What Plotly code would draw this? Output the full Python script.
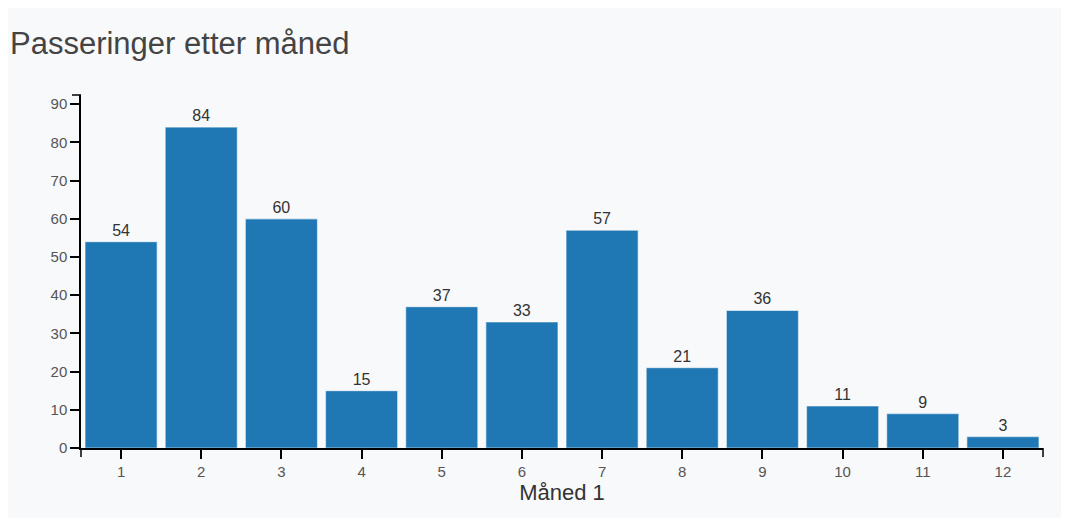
import plotly.graph_objects as go

months = [1, 2, 3, 4, 5, 6, 7, 8, 9, 10, 11, 12]
passeringer = [54, 84, 60, 15, 37, 33, 57, 21, 36, 11, 9, 3]
y_ticks = [0, 10, 20, 30, 40, 50, 60, 70, 80, 90]

# page has an 8px body margin
W, H = 1061, 510
L, R, T, B = 73, 26, 87, 70
pw = W - L - R
ph = H - T - B
TICKLEN = 9

fig = go.Figure(go.Bar(
    x=months, y=passeringer,
    marker=dict(color="#1f77b4", line=dict(color="rgba(255,255,255,0.55)", width=1.2)),
    text=[str(v) for v in passeringer], textposition="outside",
    textfont=dict(family="Liberation Sans, Arial", size=16, color="#333"),
    cliponaxis=False,
))

shapes = [
    # d3-style outer ticks at domain ends
    dict(type="line", xref="paper", yref="paper", x0=0, x1=0, y0=0, y1=-TICKLEN / ph,
         line=dict(color="#000", width=1.5)),
    dict(type="line", xref="paper", yref="paper", x0=1, x1=1, y0=0, y1=-TICKLEN / ph,
         line=dict(color="#000", width=1.5)),
    dict(type="line", xref="paper", yref="paper", x0=0, x1=-TICKLEN / pw, y0=1, y1=1,
         line=dict(color="#000", width=1.5)),
]

fig.update_layout(
    width=W, height=H,
    margin=dict(l=L, r=R, t=T, b=B),
    paper_bgcolor="#f8f9fa", plot_bgcolor="rgba(0,0,0,0)",
    bargap=0.1,
    showlegend=False,
    shapes=shapes,
    title=dict(text="Passeringer etter måned", xref="container", x=2 / W, xanchor="left",
               yref="container", y=1 - 35 / H, yanchor="middle",
               font=dict(family="Liberation Sans, Arial", size=31, color="#444")),
    font=dict(family="Liberation Sans, Arial"),
    xaxis=dict(
        tickmode="array", tickvals=months, ticktext=[str(m) for m in months],
        range=[0.5, 12.5], showgrid=False, zeroline=False,
        showline=True, linecolor="#000", linewidth=1.5,
        ticks="outside", ticklen=TICKLEN, tickcolor="#000", tickwidth=1.5,
        tickfont=dict(size=15, color="#555"),
        title=dict(text="Måned 1", font=dict(size=22, color="#333"), standoff=4),
    ),
    yaxis=dict(
        tickmode="array", tickvals=y_ticks, range=[0, 92.4],
        showgrid=False, zeroline=False,
        showline=True, linecolor="#000", linewidth=1.5,
        ticks="outside", ticklen=TICKLEN, tickcolor="#000", tickwidth=1.5,
        tickfont=dict(size=15, color="#555"),
    ),
)

fig.write_html("out.html")
